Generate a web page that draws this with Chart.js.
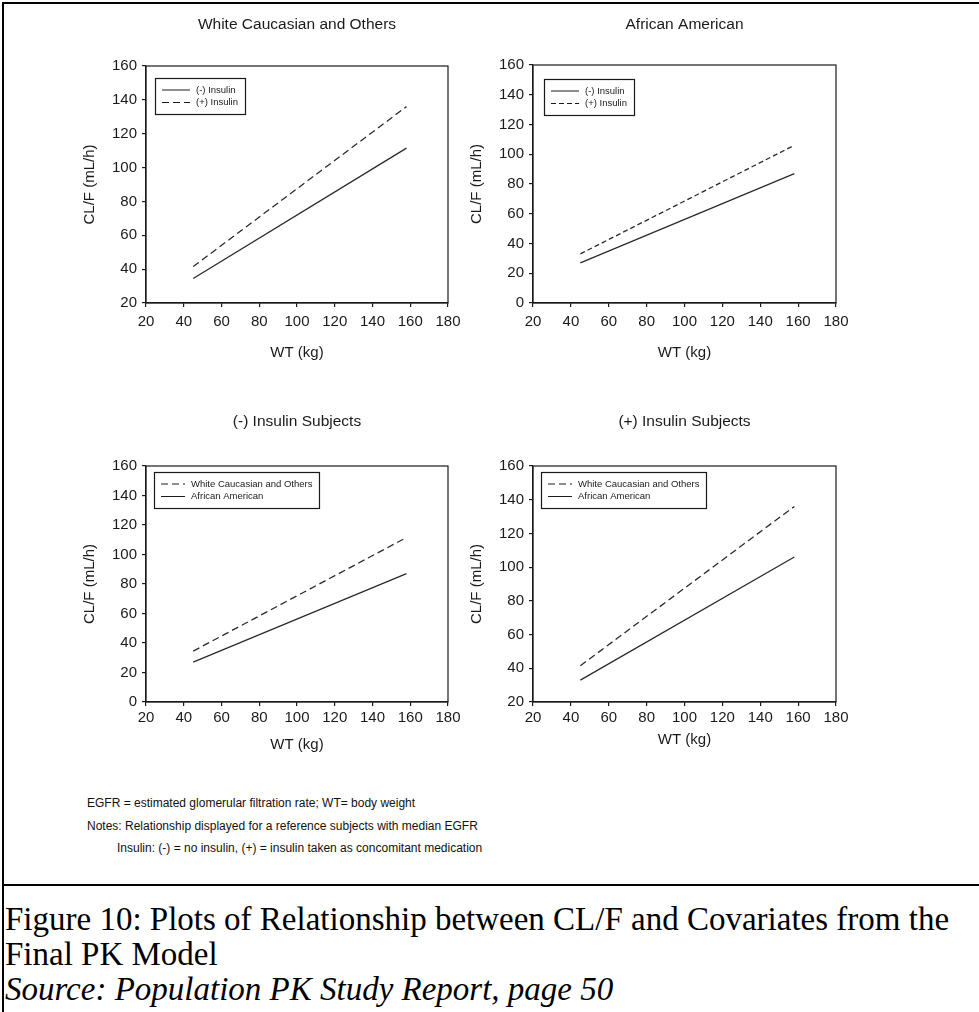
<!DOCTYPE html>
<html>
<head>
<meta charset="utf-8">
<script src="https://cdn.jsdelivr.net/npm/chart.js@4.4.1/dist/chart.umd.min.js"></script>
<style>
  html, body { margin: 0; padding: 0; background: #fff; }
  #page { position: relative; width: 979px; height: 1012px; overflow: hidden;
          font-family: "Liberation Sans", Arial, sans-serif; color: #111; }
  .rule { position: absolute; background: #000; }
  canvas { position: absolute; }
  .notes { position: absolute; left: 87px; top: 792px; font-size: 12px; line-height: 22.5px; white-space: nowrap; }
  .notes .indent { padding-left: 30px; }
  .caption { position: absolute; left: 5px; top: 902px; font-family: "Liberation Serif", "Times New Roman", serif;
             font-size: 33px; line-height: 35px; color: #000; white-space: nowrap; }
  .caption i { font-style: italic; }
</style>
</head>
<body>
<div id="page">
  <div class="rule" style="left:2px;top:2px;width:977px;height:2px;"></div>
  <div class="rule" style="left:2px;top:2px;width:2px;height:1010px;"></div>
  <div class="rule" style="left:2px;top:884px;width:977px;height:2px;"></div>

  <canvas id="p1" width="420" height="390" style="left:60px;top:0px;width:420px;height:390px;"></canvas>
  <canvas id="p2" width="440" height="390" style="left:447px;top:0px;width:440px;height:390px;"></canvas>
  <canvas id="p3" width="420" height="380" style="left:60px;top:400px;width:420px;height:380px;"></canvas>
  <canvas id="p4" width="440" height="380" style="left:447px;top:400px;width:440px;height:380px;"></canvas>

  <div class="notes">
    <div>EGFR = estimated glomerular filtration rate; WT= body weight</div>
    <div>Notes: Relationship displayed for a reference subjects with median EGFR</div>
    <div class="indent">Insulin: (-) = no insulin, (+) = insulin taken as concomitant medication</div>
  </div>
  <div class="caption">
    <div>Figure 10: Plots of Relationship between CL/F and Covariates from the</div>
    <div>Final PK Model</div>
    <div><i>Source: Population PK Study Report, page 50</i></div>
  </div>
</div>

<script>
// Body weight (kg) at the ends of each predicted CL/F line
const weightKg = [45, 158];

// Predicted CL/F (mL/h) at those weights
const whiteNoInsulin = [34.5, 111.5];
const whiteInsulin   = [41.5, 136];
const africanNoInsulin = [27, 87];
const africanInsulin   = [33, 106];

// Axis tick values
const weightTicks = [20, 40, 60, 80, 100, 120, 140, 160, 180];
const clTicksFrom20 = [20, 40, 60, 80, 100, 120, 140, 160];
const clTicksFrom0  = [0, 20, 40, 60, 80, 100, 120, 140, 160];

// Panel and legend labels
const panelTitles = ["White Caucasian and Others", "African American", "(-) Insulin Subjects", "(+) Insulin Subjects"];
const insulinLabels = ["(-) Insulin", "(+) Insulin"];
const raceLabels = ["White Caucasian and Others", "African American"];

const INK = "#1a1a1a";
const FONT = '"Liberation Sans", Arial, sans-serif';

function toPoints(values) {
  return values.map((v, i) => ({ x: weightKg[i], y: v }));
}

// Frame around the plotting area
const frameBox = {
  id: "frameBox",
  afterDraw(chart) {
    const { ctx, chartArea: a } = chart;
    ctx.save();
    ctx.strokeStyle = INK;
    ctx.lineWidth = 1.2;
    ctx.strokeRect(a.left, a.top, a.right - a.left, a.bottom - a.top);
    ctx.restore();
  }
};

// Panel heading centred over the plotting area
const panelHeading = {
  id: "panelHeading",
  afterDraw(chart, args, opts) {
    const { ctx, chartArea: a } = chart;
    ctx.save();
    ctx.font = "15.5px " + FONT;
    ctx.fillStyle = INK;
    ctx.textAlign = "center";
    ctx.textBaseline = "middle";
    ctx.fillText(opts.text, (a.left + a.right) / 2, a.top - opts.gap);
    ctx.restore();
  }
};

// Boxed legend placed inside the plotting area
const boxLegend = {
  id: "boxLegend",
  afterDatasetsDraw(chart, args, opts) {
    const { ctx, chartArea: a } = chart;
    ctx.save();
    ctx.font = "9.5px " + FONT;
    const sets = chart.data.datasets;
    const textW = Math.max(...sets.map(d => ctx.measureText(d.label).width));
    const x = a.left + opts.dx, y = a.top + opts.dy;
    const w = Math.round(7 + opts.sample + 6 + textW + 7), h = 36;
    ctx.fillStyle = "#fff";
    ctx.fillRect(x, y, w, h);
    ctx.strokeStyle = INK;
    ctx.lineWidth = 1.2;
    ctx.strokeRect(x + 0.5, y + 0.5, w, h);
    sets.forEach((d, i) => {
      const ly = y + 12 + i * 12.5;
      ctx.lineWidth = 1;
      ctx.setLineDash(d.borderDash || []);
      ctx.beginPath();
      ctx.moveTo(x + 7, ly);
      ctx.lineTo(x + 7 + opts.sample, ly);
      ctx.stroke();
      ctx.setLineDash([]);
      ctx.fillStyle = INK;
      ctx.textBaseline = "middle";
      ctx.fillText(d.label, x + 7 + opts.sample + 6, ly);
    });
    ctx.restore();
  }
};

function lineSet(label, values, dash) {
  return {
    label,
    data: toPoints(values),
    borderColor: "#2a2a2a",
    borderWidth: 1.3,
    borderDash: dash || [],
    pointRadius: 0,
    fill: false,
    tension: 0
  };
}

function makePanel(id, cfg) {
  new Chart(document.getElementById(id), {
    type: "line",
    data: { datasets: cfg.datasets },
    plugins: [frameBox, panelHeading, boxLegend],
    options: {
      responsive: false,
      animation: false,
      layout: { padding: { top: cfg.top, right: cfg.right, left: 0, bottom: 0 } },
      plugins: {
        legend: { display: false },
        tooltip: { enabled: false },
        panelHeading: { text: cfg.title, gap: cfg.titleGap },
        boxLegend: { dx: cfg.legendDx, dy: cfg.legendDy, sample: cfg.sample }
      },
      scales: {
        x: {
          type: "linear",
          min: 20, max: 180,
          afterBuildTicks: s => { s.ticks = weightTicks.map(v => ({ value: v })); },
          afterFit: s => { s.height = cfg.xSpace; },
          ticks: { color: INK, font: { family: FONT, size: 15 }, padding: cfg.xTickPad, maxRotation: 0, autoSkip: false },
          grid: { drawOnChartArea: false, drawTicks: true, tickLength: 4, color: INK, lineWidth: 1.2 },
          border: { display: true, color: INK, width: 1.2 },
          title: { display: true, text: "WT (kg)", color: INK, font: { family: FONT, size: 15 },
                   padding: { top: 0, bottom: cfg.xTitlePad } }
        },
        y: {
          type: "linear",
          min: cfg.yTicks[0], max: cfg.yTicks[cfg.yTicks.length - 1],
          afterBuildTicks: s => { s.ticks = cfg.yTicks.map(v => ({ value: v })); },
          afterFit: s => { s.width = 86; },
          ticks: { color: INK, font: { family: FONT, size: 15 }, padding: 5, autoSkip: false },
          grid: { drawOnChartArea: false, drawTicks: true, tickLength: 4, color: INK, lineWidth: 1.2 },
          border: { display: true, color: INK, width: 1.2 },
          title: { display: true, text: "CL/F (mL/h)", color: INK, font: { family: FONT, size: 15 },
                   padding: { top: 21, bottom: 0 } }
        }
      }
    }
  });
}

makePanel("p1", {
  title: panelTitles[0], titleGap: 41,
  top: 66, right: 32, xSpace: 87, xTitlePad: 28, xTickPad: 6,
  yTicks: clTicksFrom20,
  legendDx: 9, legendDy: 12, sample: 28,
  datasets: [lineSet(insulinLabels[0], whiteNoInsulin), lineSet(insulinLabels[1], whiteInsulin, [7, 4])]
});

makePanel("p2", {
  title: panelTitles[1], titleGap: 40,
  top: 65, right: 51, xSpace: 87, xTitlePad: 28, xTickPad: 6,
  yTicks: clTicksFrom0,
  legendDx: 11, legendDy: 14, sample: 28,
  datasets: [lineSet(insulinLabels[0], africanNoInsulin), lineSet(insulinLabels[1], africanInsulin, [5, 3])]
});

makePanel("p3", {
  title: panelTitles[2], titleGap: 44,
  top: 66, right: 32, xSpace: 78, xTitlePad: 26, xTickPad: 3,
  yTicks: clTicksFrom0,
  legendDx: 8, legendDy: 6, sample: 24,
  datasets: [lineSet(raceLabels[0], whiteNoInsulin, [7, 4]), lineSet(raceLabels[1], africanNoInsulin)]
});

makePanel("p4", {
  title: panelTitles[3], titleGap: 44,
  top: 66, right: 51, xSpace: 78, xTitlePad: 31, xTickPad: 3,
  yTicks: clTicksFrom20,
  legendDx: 8, legendDy: 6, sample: 24,
  datasets: [lineSet(raceLabels[0], whiteInsulin, [7, 4]), lineSet(raceLabels[1], africanInsulin)]
});
</script>
</body>
</html>
